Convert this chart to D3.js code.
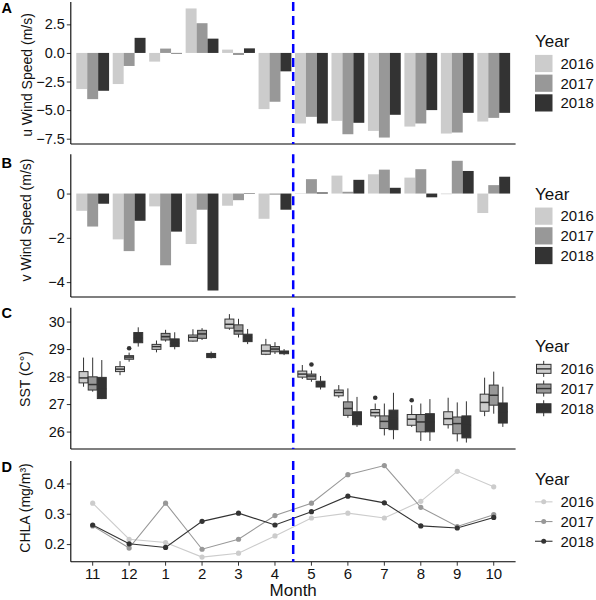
<!DOCTYPE html>
<html>
<head>
<meta charset="utf-8">
<script src="https://cdn.jsdelivr.net/npm/d3@7"></script>
<style>
  html, body { margin: 0; padding: 0; background: #fff; }
  svg { display: block; font-family: "Liberation Sans", Arial, sans-serif; }
</style>
</head>
<body>
<svg id="chart" width="596" height="600"></svg>
<script>
// ---------- DATA ----------
const months = ["11","12","1","2","3","4","5","6","7","8","9","10"];
const years = ["2016","2017","2018"];

const uWind2016 = [-3.16,-2.72,-0.76,3.89,0.29,-4.91,-6.17,-5.94,-6.82,-6.44,-7.05,-6.00];
const uWind2017 = [-4.04,-1.14,0.38,2.60,-0.18,-4.27,-5.59,-7.11,-7.40,-6.17,-6.96,-5.68];
const uWind2018 = [-3.31,1.32,-0.05,1.25,0.40,-1.61,-6.17,-6.11,-5.41,-5.00,-5.24,-5.24];

const vWind2016 = [-0.78,-2.07,-0.58,-2.28,-0.55,-1.14,-0.02,0.81,0.87,0.72,-0.03,-0.88];
const vWind2017 = [-1.49,-2.60,-3.24,-0.73,-0.30,-0.05,0.65,0.08,1.08,1.10,1.48,0.38];
const vWind2018 = [-0.46,-1.23,-1.72,-4.38,-0.02,-0.73,0.05,0.62,0.26,-0.17,1.02,0.76];

// SST boxplot stats per month: [lower whisker, Q1, median, Q3, upper whisker]
const sst2016 = [
  [27.63,27.77,27.95,28.18,28.69],[28.05,28.18,28.27,28.36,28.56],[28.88,28.99,29.09,29.17,29.31],
  [29.27,29.29,29.43,29.51,29.72],[29.70,29.76,29.90,30.09,30.27],[28.78,28.81,28.93,29.15,29.37],
  [27.91,27.98,28.09,28.20,28.42],[27.23,27.30,27.42,27.51,27.69],[26.50,26.57,26.69,26.80,27.02],
  [26.17,26.23,26.45,26.62,26.96],[26.11,26.25,26.47,26.72,27.23],[26.56,26.74,27.06,27.36,27.96]];
const sst2017 = [
  [27.45,27.51,27.71,27.99,28.69],[28.54,28.63,28.71,28.76,28.87],[29.27,29.33,29.45,29.57,29.70],
  [29.33,29.39,29.55,29.68,29.76],[29.42,29.54,29.66,29.88,30.10],[28.82,28.90,29.00,29.09,29.25],
  [27.81,27.90,28.02,28.09,28.22],[26.50,26.59,26.84,27.08,27.57],[25.86,26.11,26.37,26.57,27.02],
  [25.66,25.99,26.35,26.62,27.02],[25.64,25.92,26.29,26.53,27.06],[26.65,26.96,27.32,27.69,28.18]];
const sst2018 = [
  [27.18,27.20,27.55,27.97,28.60],[29.09,29.23,29.40,29.60,29.79],[28.99,29.09,29.21,29.37,29.61],
  [28.66,28.69,28.78,28.84,28.91],[29.18,29.27,29.42,29.54,29.73],[28.78,28.83,28.88,28.93,29.00],
  [27.53,27.62,27.74,27.83,28.02],[26.17,26.25,26.47,26.72,27.26],[25.72,26.07,26.47,26.78,27.41],
  [25.66,25.99,26.35,26.65,27.18],[25.60,25.77,26.23,26.57,27.10],[26.17,26.31,26.72,27.04,27.63]];
const sstOutlierMonths = ["12","5","7","8"];
const sstOutlierYears  = ["2017","2017","2016","2016"];
const sstOutlierValues = [29.03,28.44,27.23,27.14];

const chla2016 = [0.335,0.216,0.205,0.157,0.170,0.227,0.286,0.302,0.286,0.341,0.440,0.389];
const chla2017 = [0.260,0.187,0.335,0.183,0.216,0.294,0.335,0.429,0.459,0.321,0.258,0.297];
const chla2018 = [0.263,0.201,0.189,0.275,0.302,0.263,0.307,0.358,0.336,0.260,0.253,0.288];

const uTicks = [2.5, 0, -2.5, -5, -7.5];
const vTicks = [0, -2, -4];
const sstTicks = [26, 27, 28, 29, 30];
const chlaTicks = [0.2, 0.3, 0.4];
const splitAfterMonth = "4";

// ---------- LAYOUT ----------
const svg = d3.select("#chart");
const colors = d3.scaleOrdinal().domain(years).range(["#CCCCCC","#989898","#333333"]);
const left = 70.8, right = 515.6;
const panels = {
  A: {top: 2, bottom: 144},
  B: {top: 154.3, bottom: 297},
  C: {top: 307.7, bottom: 449},
  D: {top: 461, bottom: 561.7}
};
const x = d3.scaleBand().domain(months).range([left, right]).paddingInner(0).paddingOuter(0.1);
const step = x.bandwidth();
const xc = m => x(m) + step / 2;
const yearOffset = d3.scaleBand().domain(years).range([-0.45 * step, 0.45 * step]);

function expand(lo, hi) { const r = hi - lo; return [lo - 0.05 * r, hi + 0.05 * r]; }

const textCol = "#111";

function leftAxis(yScale, ticks, fmt, p) {
  const g = svg.append("g").attr("transform", `translate(${left},0)`)
    .call(d3.axisLeft(yScale).tickValues(ticks).tickFormat(fmt).tickSizeOuter(0).tickSize(4).tickPadding(2));
  g.select(".domain").remove();
  g.selectAll(".tick line").attr("stroke", "#333").attr("stroke-width", 1);
  g.selectAll(".tick text").attr("font-size", 14.5).attr("fill", textCol)
    .attr("font-family", "Liberation Sans, Arial, sans-serif");
  svg.append("line").attr("x1", left).attr("x2", left).attr("y1", p.top).attr("y2", p.bottom)
    .attr("stroke", "#000").attr("stroke-width", 1.1);
  svg.append("line").attr("x1", left).attr("x2", right).attr("y1", p.bottom).attr("y2", p.bottom)
    .attr("stroke", "#000").attr("stroke-width", 1.1);
}

function yTitle(txt, xBase, yc) {
  svg.append("text").attr("transform", `translate(${xBase},${yc}) rotate(-90)`)
    .attr("text-anchor", "middle").attr("font-size", 14).attr("fill", textCol).text(txt);
}

function panelLabel(txt, yb) {
  svg.append("text").attr("x", 1.5).attr("y", yb).attr("font-size", 14.5)
    .attr("font-weight", "bold").attr("fill", "#000").text(txt);
}

function splitLine(p) {
  const xs = x(splitAfterMonth) + step;
  svg.append("line").attr("x1", xs).attr("x2", xs).attr("y1", p.top).attr("y2", p.bottom)
    .attr("stroke", "#0000FF").attr("stroke-width", 2.5).attr("stroke-dasharray", "9,5");
}

function legend(yc, type) {
  const g = svg.append("g");
  g.append("text").attr("x", 535).attr("y", yc - 26).attr("font-size", 17).attr("fill", textCol).text("Year");
  years.forEach((yr, i) => {
    const cy = yc - 9.5 + i * 19.7;
    if (type === "bar") {
      g.append("rect").attr("x", 535).attr("y", cy - 8.6).attr("width", 17.5).attr("height", 17.2)
        .attr("fill", colors(yr));
    } else if (type === "box") {
      g.append("line").attr("x1", 543.7).attr("x2", 543.7).attr("y1", cy - 8).attr("y2", cy + 8)
        .attr("stroke", "#333").attr("stroke-width", 1);
      g.append("rect").attr("x", 536.5).attr("y", cy - 4.5).attr("width", 14.5).attr("height", 9)
        .attr("fill", colors(yr)).attr("stroke", "#333").attr("stroke-width", 1);
      g.append("line").attr("x1", 536.5).attr("x2", 551).attr("y1", cy).attr("y2", cy)
        .attr("stroke", "#333").attr("stroke-width", 1.4);
    } else {
      g.append("line").attr("x1", 535).attr("x2", 552.5).attr("y1", cy).attr("y2", cy)
        .attr("stroke", colors(yr)).attr("stroke-width", 1.1);
      g.append("circle").attr("cx", 543.7).attr("cy", cy).attr("r", 2.5).attr("fill", colors(yr));
    }
    g.append("text").attr("x", 560.5).attr("y", cy + 5.3).attr("font-size", 15).attr("fill", textCol).text(yr);
  });
}

// ---------- PANEL A ----------
{
  const p = panels.A;
  const series = [uWind2016, uWind2017, uWind2018];
  const all = series.flat().concat([0]);
  const y = d3.scaleLinear().domain(expand(d3.min(all), d3.max(all))).range([p.bottom, p.top]);
  const data = [];
  series.forEach((s, j) => s.forEach((v, i) => data.push({m: months[i], yr: years[j], v})));
  svg.append("g").selectAll("rect").data(data).join("rect")
    .attr("x", d => xc(d.m) + yearOffset(d.yr))
    .attr("width", yearOffset.bandwidth())
    .attr("y", d => y(Math.max(0, d.v)))
    .attr("height", d => Math.abs(y(d.v) - y(0)))
    .attr("fill", d => colors(d.yr));
  leftAxis(y, uTicks, d3.format(".1f"), p);
  splitLine(p);
  yTitle("u Wind Speed (m/s)", 31.5, 75);
  panelLabel("A", 13.3);
  legend((p.top + p.bottom) / 2, "bar");
}

// ---------- PANEL B ----------
{
  const p = panels.B;
  const series = [vWind2016, vWind2017, vWind2018];
  const all = series.flat().concat([0]);
  const y = d3.scaleLinear().domain(expand(d3.min(all), d3.max(all))).range([p.bottom, p.top]);
  const data = [];
  series.forEach((s, j) => s.forEach((v, i) => data.push({m: months[i], yr: years[j], v})));
  svg.append("g").selectAll("rect").data(data).join("rect")
    .attr("x", d => xc(d.m) + yearOffset(d.yr))
    .attr("width", yearOffset.bandwidth())
    .attr("y", d => y(Math.max(0, d.v)))
    .attr("height", d => Math.abs(y(d.v) - y(0)))
    .attr("fill", d => colors(d.yr));
  leftAxis(y, vTicks, d3.format("d"), p);
  splitLine(p);
  yTitle("v Wind Speed (m/s)", 30.5, 220);
  panelLabel("B", 167.7);
  legend((p.top + p.bottom) / 2, "bar");
}

// ---------- PANEL C ----------
{
  const p = panels.C;
  const series = [sst2016, sst2017, sst2018];
  const all = series.flat(2).concat(sstOutlierValues);
  const y = d3.scaleLinear().domain(expand(d3.min(all), d3.max(all))).range([p.bottom, p.top]);
  const boxOff = d3.scaleOrdinal().domain(years).range([-0.25 * step, 0, 0.25 * step]);
  const bw = 0.245 * step;
  const data = [];
  series.forEach((s, j) => s.forEach((st, i) => data.push({m: months[i], yr: years[j], st})));
  const g = svg.append("g");
  const bx = g.selectAll("g.box").data(data).join("g").attr("class", "box")
    .attr("transform", d => `translate(${xc(d.m) + boxOff(d.yr)},0)`);
  bx.append("line").attr("y1", d => y(d.st[0])).attr("y2", d => y(d.st[1]))
    .attr("stroke", "#333").attr("stroke-width", 1);
  bx.append("line").attr("y1", d => y(d.st[3])).attr("y2", d => y(d.st[4]))
    .attr("stroke", "#333").attr("stroke-width", 1);
  bx.append("rect").attr("x", -bw / 2).attr("width", bw)
    .attr("y", d => y(d.st[3])).attr("height", d => y(d.st[1]) - y(d.st[3]))
    .attr("fill", d => colors(d.yr)).attr("stroke", "#333").attr("stroke-width", 1);
  bx.append("line").attr("x1", -bw / 2).attr("x2", bw / 2)
    .attr("y1", d => y(d.st[2])).attr("y2", d => y(d.st[2]))
    .attr("stroke", "#333").attr("stroke-width", 1.5);
  g.selectAll("circle").data(sstOutlierValues).join("circle")
    .attr("cx", (v, i) => xc(sstOutlierMonths[i]) + boxOff(sstOutlierYears[i]))
    .attr("cy", v => y(v)).attr("r", 2.3).attr("fill", "#333");
  leftAxis(y, sstTicks, d3.format("d"), p);
  splitLine(p);
  yTitle("SST (C°)", 29.5, 379);
  panelLabel("C", 318.3);
  legend((p.top + p.bottom) / 2, "box");
}

// ---------- PANEL D ----------
{
  const p = panels.D;
  const series = [chla2016, chla2017, chla2018];
  const all = series.flat();
  const y = d3.scaleLinear().domain(expand(d3.min(all), d3.max(all))).range([p.bottom, p.top]);
  const line = d3.line().x((v, i) => xc(months[i])).y(v => y(v));
  series.forEach((s, j) => {
    svg.append("path").datum(s).attr("d", line).attr("fill", "none")
      .attr("stroke", colors(years[j])).attr("stroke-width", 1.1);
  });
  series.forEach((s, j) => {
    svg.append("g").selectAll("circle").data(s).join("circle")
      .attr("cx", (v, i) => xc(months[i])).attr("cy", v => y(v)).attr("r", 2.6)
      .attr("fill", colors(years[j]));
  });
  leftAxis(y, chlaTicks, d3.format(".1f"), p);
  const gx = svg.append("g").attr("transform", `translate(0,${p.bottom})`)
    .call(d3.axisBottom(x).tickSizeOuter(0).tickSize(4).tickPadding(3));
  gx.select(".domain").remove();
  gx.selectAll(".tick line").attr("stroke", "#333");
  gx.selectAll(".tick text").attr("font-size", 15).attr("fill", textCol)
    .attr("font-family", "Liberation Sans, Arial, sans-serif");
  splitLine(p);
  yTitle("CHLA (mg/m³)", 29.5, 508);
  panelLabel("D", 472.3);
  legend((p.top + p.bottom) / 2, "line");
  svg.append("text").attr("x", (left + right) / 2).attr("y", 596).attr("text-anchor", "middle")
    .attr("font-size", 17).attr("fill", textCol).text("Month");
}
</script>
</body>
</html>
